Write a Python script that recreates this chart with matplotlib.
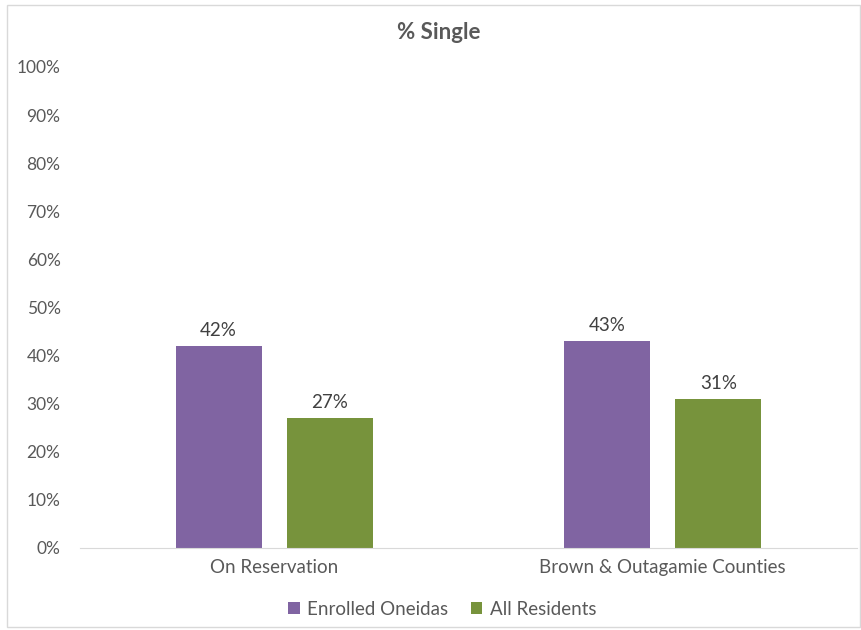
import numpy as np
import matplotlib.pyplot as plt
from matplotlib.patches import Rectangle

# data
categories = ["On Reservation", "Brown & Outagamie Counties"]
series_names = ["Enrolled Oneidas", "All Residents"]
enrolled = [42, 43]
all_residents = [27, 31]
colors = ["#8064A2", "#77933C"]

plt.rcParams["font.family"] = ["Lato", "DejaVu Sans"]

fig = plt.figure(figsize=(8.62, 6.30), dpi=100)
ax = fig.add_axes([0.0928, 0.1302, 0.9014, 0.7635])

x = np.arange(len(categories))
width = 0.221
offset = 0.143
b1 = ax.bar(x - offset, enrolled, width, color=colors[0], label=series_names[0])
b2 = ax.bar(x + offset, all_residents, width, color=colors[1], label=series_names[1])

for bars in (b1, b2):
    for rect in bars:
        h = rect.get_height()
        ax.text(rect.get_x() + rect.get_width() / 2, h + 1.5, f"{h:.0f}%",
                ha="center", va="bottom", fontsize=13.5, color="#404040")

ax.set_xlim(-0.5, 1.5)
ax.set_ylim(0, 100)
ax.set_yticks(range(0, 101, 10))
ax.set_yticklabels([f"{v}%" for v in range(0, 101, 10)])
ax.set_xticks(x)
ax.set_xticklabels(categories)
ax.tick_params(axis="both", length=0, colors="#595959")
ax.tick_params(axis="y", pad=14, labelsize=12.5)
ax.tick_params(axis="x", pad=8, labelsize=13.5)

for s in ["top", "right", "left"]:
    ax.spines[s].set_visible(False)
ax.spines["bottom"].set_color("#D9D9D9")

fig.text(0.509, 0.948, "% Single", ha="center", va="center", fontsize=16,
         fontweight="bold", color="#595959")

leg = fig.legend(handles=[b1, b2], labels=series_names, loc="center",
                 bbox_to_anchor=(0.513, 0.033), ncol=2, frameon=False,
                 fontsize=13.5, handlelength=0.6, handleheight=0.6,
                 handletextpad=0.4, columnspacing=1.2)
for t in leg.get_texts():
    t.set_color("#595959")

fig.patches.append(Rectangle((7 / 862, 3 / 630), 853 / 862, 622 / 630,
                             transform=fig.transFigure, fill=False,
                             edgecolor="#D9D9D9", linewidth=1))

fig.savefig("out.png", dpi=100)
